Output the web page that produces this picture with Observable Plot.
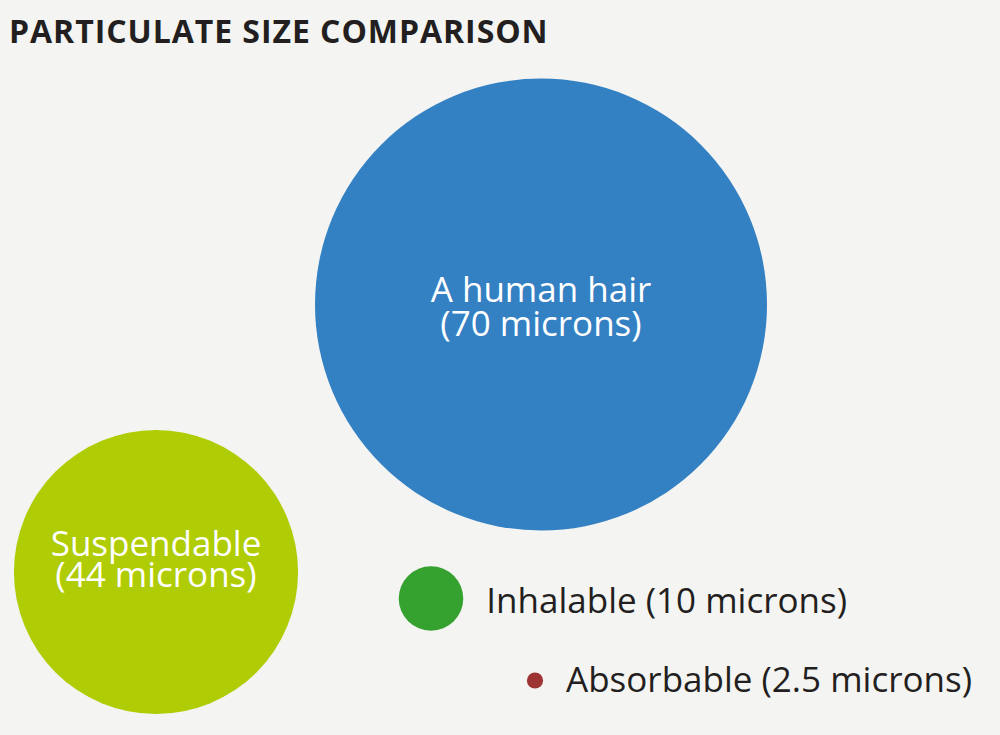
<!DOCTYPE html>
<html>
<head>
<meta charset="utf-8">
<script src="https://cdn.jsdelivr.net/npm/d3@7"></script>
<script src="https://cdn.jsdelivr.net/npm/@observablehq/plot@0.6"></script>
<style>
  html, body { margin: 0; padding: 0; background: #f4f4f2; width: 1000px; height: 735px; overflow: hidden; }
  #title { height: 62px; box-sizing: border-box; padding: 15px 0 0 9px; font-family: "Open Sans", sans-serif; font-weight: 700; font-size: 32px; color: #231f20; letter-spacing: 0.95px; line-height: 32px; white-space: nowrap; }
</style>
</head>
<body>
<div id="title">PARTICULATE SIZE COMPARISON</div>
<div id="chart"></div>
<script>
// Data
const names = ["A human hair", "Suspendable", "Inhalable", "Absorbable"];
const microns = [70, 44, 10, 2.5];
const details = ["(70 microns)", "(44 microns)", "(10 microns)", "(2.5 microns)"];
const colors = ["#3380c3", "#afcc04", "#35a230", "#9e3333"];

// Layout (circle centres and label offsets, in layout units)
const layoutX = [540.5, 155.5, 430.5, 534.5];
const layoutY = [242, 509.5, 536, 618];
const labelDy = [4, -10, 3, 0];
const insideLabel = [true, true, false, false];

const W = 1000, H = 673;
const pxPerMicron = 226 / 70;
const gap = 23;

const rows = names.map((n, i) => ({
  name: n,
  d: microns[i],
  label: insideLabel[i] ? n + "\n" + details[i] : n + " " + details[i],
  color: colors[i],
  x: layoutX[i],
  y: layoutY[i],
  dy: labelDy[i],
  inside: insideLabel[i]
}));

const chart = Plot.plot({
  width: W,
  height: H,
  margin: 0,
  style: { background: "transparent", overflow: "visible" },
  x: { domain: [0, W], range: [0, W], axis: null },
  y: { domain: [0, H], range: [0, H], axis: null },
  r: { type: "linear", domain: [0, 70], range: [0, 70 * pxPerMicron] },
  color: { type: "identity" },
  marks: [
    Plot.dot(rows, { x: "x", y: "y", r: "d", fill: "color", stroke: null }),
    Plot.text(rows.filter(d => d.inside && d.d > 50), {
      x: "x", y: d => d.y + d.dy, text: "label",
      fill: "white", fontSize: 35, lineHeight: 0.97,
      textAnchor: "middle", lineAnchor: "middle",
      fontFamily: "Open Sans", fontWeight: 400
    }),
    Plot.text(rows.filter(d => d.inside && d.d <= 50), {
      x: "x", y: d => d.y + d.dy, text: "label",
      fill: "white", fontSize: 35, lineHeight: 0.88,
      textAnchor: "middle", lineAnchor: "middle",
      fontFamily: "Open Sans", fontWeight: 400
    }),
    Plot.text(rows.filter(d => !d.inside), {
      x: d => d.x + d.d * pxPerMicron + gap, y: d => d.y + d.dy, text: "label",
      fill: "#231f20", fontSize: 35,
      textAnchor: "start", lineAnchor: "middle",
      fontFamily: "Open Sans", fontWeight: 400
    })
  ]
});
document.getElementById("chart").appendChild(chart);
</script>
</body>
</html>
